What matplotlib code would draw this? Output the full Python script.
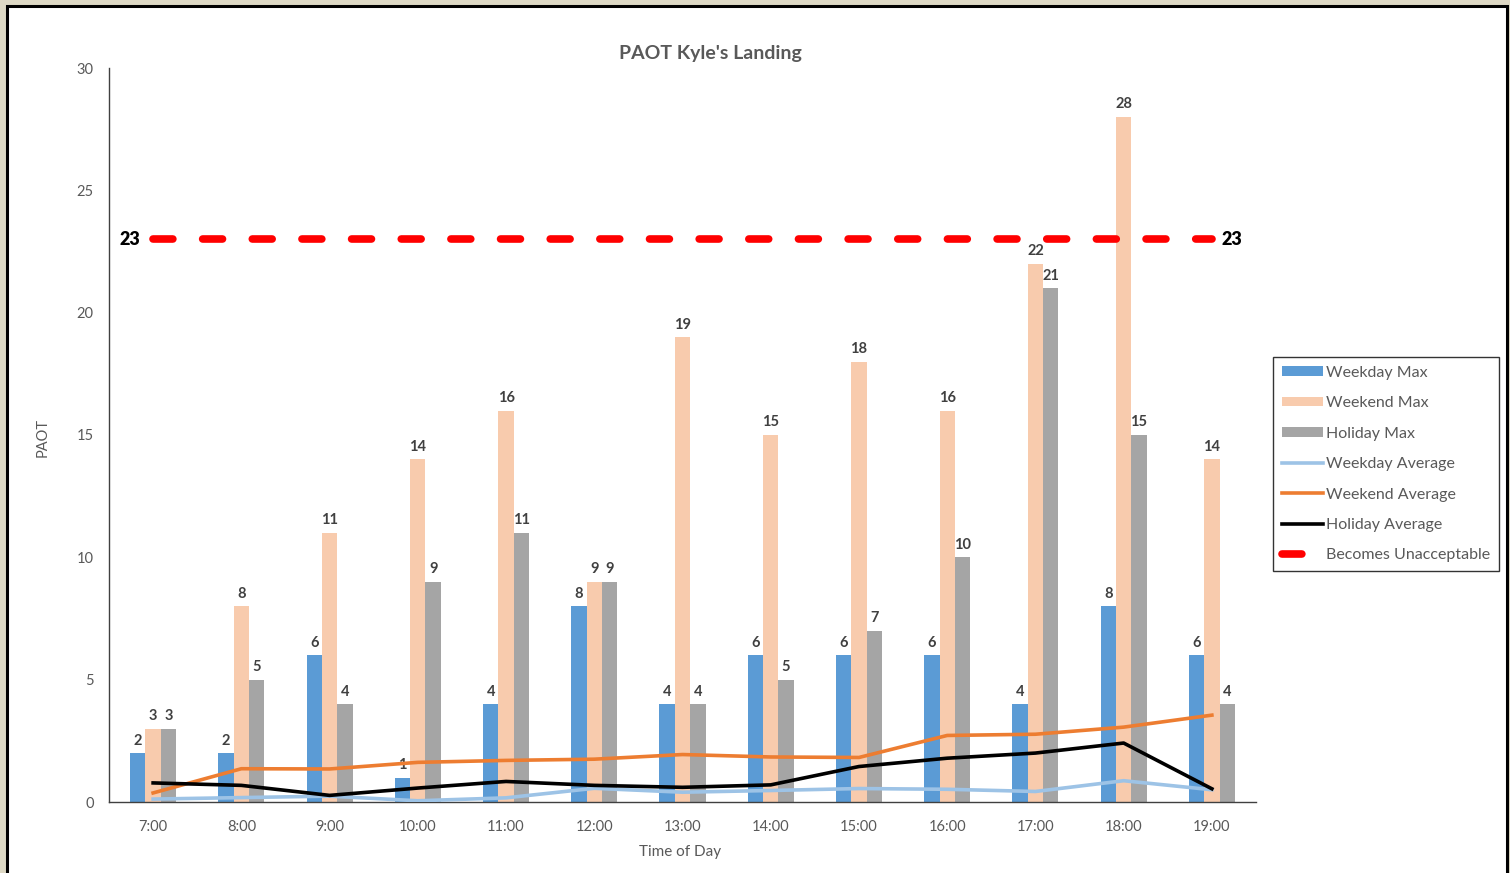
import matplotlib
matplotlib.use("Agg")
import matplotlib.pyplot as plt
import matplotlib.patches as mpatches
import numpy as np

plt.rcParams['font.family'] = ['Lato', 'DejaVu Sans']

hours = ["7:00", "8:00", "9:00", "10:00", "11:00", "12:00", "13:00",
         "14:00", "15:00", "16:00", "17:00", "18:00", "19:00"]
weekday_max = [2, 2, 6, 1, 4, 8, 4, 6, 6, 6, 4, 8, 6]
weekend_max = [3, 8, 11, 14, 16, 9, 19, 15, 18, 16, 22, 28, 14]
holiday_max = [3, 5, 4, 9, 11, 9, 4, 5, 7, 10, 21, 15, 4]
weekday_avg = [0.12, 0.18, 0.24, 0.05, 0.17, 0.56, 0.40, 0.47, 0.55, 0.52, 0.43, 0.87, 0.50]
weekend_avg = [0.37, 1.36, 1.35, 1.62, 1.70, 1.75, 1.94, 1.84, 1.82, 2.72, 2.77, 3.06, 3.55]
holiday_avg = [0.78, 0.68, 0.27, 0.57, 0.84, 0.68, 0.60, 0.70, 1.45, 1.79, 2.00, 2.41, 0.54]
threshold = 23

C_WD = '#5b9bd5'
C_WE = '#f8cbad'
C_HO = '#a5a5a5'
C_WDA = '#9dc3e6'
C_WEA = '#ed7d31'
GRAY = '#595959'
LBL = '#404040'

fig = plt.figure(figsize=(15.10, 8.73), dpi=100)
fig.patch.set_facecolor('#ddd8c4')
# white chart area with black frame, kept behind the axes
frame = mpatches.Rectangle((7 / 1510, -0.02), 1500 / 1510, 1 - 6 / 873 + 0.02,
                           transform=fig.transFigure, facecolor='white',
                           edgecolor='black', linewidth=2.2, zorder=-10)
fig.patches.append(frame)

ax = fig.add_axes([109 / 1510, 1 - 802 / 873, (1256 - 109) / 1510, (802 - 68) / 873])
ax.set_facecolor('none')

x = np.arange(len(hours))
w = 0.174
b1 = ax.bar(x - w, weekday_max, w, color=C_WD, label='Weekday Max', zorder=2)
b2 = ax.bar(x, weekend_max, w, color=C_WE, label='Weekend Max', zorder=2)
b3 = ax.bar(x + w, holiday_max, w, color=C_HO, label='Holiday Max', zorder=2)

for bars in (b1, b2, b3):
    ax.bar_label(bars, padding=4, fontsize=10.5, fontweight='bold', color=LBL)

l1, = ax.plot(x, weekday_avg, color=C_WDA, lw=2.6, label='Weekday Average', zorder=3,
              solid_joinstyle='round')
l2, = ax.plot(x, weekend_avg, color=C_WEA, lw=2.6, label='Weekend Average', zorder=4,
              solid_joinstyle='round')
l3, = ax.plot(x, holiday_avg, color='black', lw=2.6, label='Holiday Average', zorder=5,
              solid_joinstyle='round')
l4, = ax.plot(x, [threshold] * len(x), color='#ff0000', lw=5.5,
              dash_capstyle='round', dashes=(2.6, 3.9), label='Becomes Unacceptable',
              zorder=6)

ax.annotate(str(threshold), (x[0], threshold), xytext=(-9, 0), textcoords='offset points',
            ha='right', va='center', fontsize=13, fontweight='heavy', color='black')
ax.annotate(str(threshold), (x[-1], threshold), xytext=(7, 0), textcoords='offset points',
            ha='left', va='center', fontsize=13, fontweight='heavy', color='black')

ax.set_xlim(-0.5, len(hours) - 0.5)
ax.set_ylim(0, 30)
ax.set_yticks(range(0, 31, 5))
ax.set_xticks(x)
ax.set_xticklabels(hours)
ax.tick_params(axis='both', length=0, labelsize=10.5, labelcolor=GRAY)
ax.tick_params(axis='y', pad=11)
ax.tick_params(axis='x', pad=13)
for s in ('top', 'right'):
    ax.spines[s].set_visible(False)
for s in ('left', 'bottom'):
    ax.spines[s].set_color('#404040')
    ax.spines[s].set_linewidth(1.0)

fig.text(710 / 1510, 1 - 54 / 873, "PAOT Kyle's Landing", ha='center', va='center',
         fontsize=14, fontweight='bold', color=GRAY)
fig.text(43 / 1510, 1 - 437 / 873, 'PAOT', rotation=90, ha='center', va='center',
         fontsize=10.5, color=GRAY)
fig.text(680 / 1510, 1 - 852 / 873, 'Time of Day', ha='center', va='center',
         fontsize=11, color=GRAY)

handles = [b1, b2, b3, l1, l2, l3, l4]
leg = fig.legend(handles=handles, loc='upper left',
                 bbox_to_anchor=(1273 / 1510, 1 - 357 / 873),
                 fontsize=11.5, frameon=True, fancybox=False, handlelength=2.6,
                 handleheight=0.55, labelspacing=1.03, borderpad=0.55,
                 handletextpad=0.15, borderaxespad=0)
leg.get_frame().set_edgecolor('black')
leg.get_frame().set_linewidth(1.0)
for t in leg.get_texts():
    t.set_color(GRAY)

fig.savefig('out.png', dpi=100, facecolor=fig.get_facecolor())
